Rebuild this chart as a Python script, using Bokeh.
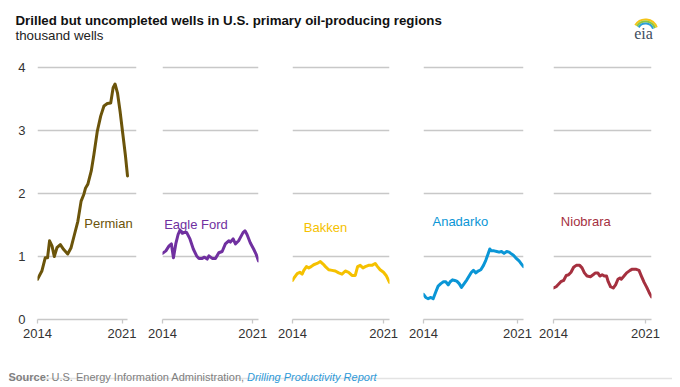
from bokeh.plotting import figure
from bokeh.models import Range1d, FixedTicker, Label
from bokeh.layouts import column, row
from bokeh.embed import file_html
from bokeh.resources import INLINE

# ---------------- data (thousand wells) ----------------
permian_years = [2014.00, 2014.36, 2014.64, 2014.83, 2015.00, 2015.20, 2015.39, 2015.61, 2015.89,
                 2016.17, 2016.50, 2016.78, 2017.06, 2017.34, 2017.61, 2017.84, 2017.98, 2018.17,
                 2018.45, 2018.67, 2018.95, 2019.23, 2019.50, 2019.78, 2020.06, 2020.26, 2020.42,
                 2020.62, 2020.84, 2021.06, 2021.28, 2021.45]
permian_values = [0.64, 0.77, 0.98, 0.98, 1.25, 1.17, 1.00, 1.14, 1.19,
                  1.11, 1.04, 1.14, 1.35, 1.56, 1.88, 1.99, 2.09, 2.15,
                  2.36, 2.62, 2.99, 3.23, 3.39, 3.43, 3.44, 3.68, 3.74,
                  3.60, 3.30, 2.95, 2.60, 2.28]

eagle_ford_years = [2014.00, 2014.26, 2014.51, 2014.69, 2014.85, 2015.03, 2015.21, 2015.36, 2015.54,
                    2015.67, 2015.88, 2016.13, 2016.39, 2016.65, 2016.83, 2017.08, 2017.26, 2017.47,
                    2017.60, 2017.86, 2018.11, 2018.37, 2018.63, 2018.88, 2019.14, 2019.27, 2019.48,
                    2019.66, 2019.91, 2020.04, 2020.25, 2020.40, 2020.56, 2020.81, 2021.07, 2021.28,
                    2021.45]
eagle_ford_values = [1.05, 1.09, 1.17, 1.20, 0.98, 1.20, 1.35, 1.42, 1.37,
                     1.38, 1.38, 1.28, 1.12, 1.01, 0.97, 0.97, 0.99, 0.96,
                     1.01, 0.97, 0.97, 1.06, 1.08, 1.20, 1.25, 1.23, 1.28,
                     1.20, 1.25, 1.30, 1.38, 1.41, 1.35, 1.22, 1.12, 1.03,
                     0.93]

bakken_years = [2014.00, 2014.15, 2014.36, 2014.56, 2014.74, 2014.87, 2015.07, 2015.25, 2015.43,
                2015.63, 2015.89, 2016.14, 2016.35, 2016.53, 2016.78, 2017.04, 2017.29, 2017.55,
                2017.80, 2018.06, 2018.31, 2018.57, 2018.82, 2019.00, 2019.20, 2019.41, 2019.59,
                2019.84, 2020.10, 2020.35, 2020.53, 2020.73, 2020.99, 2021.19, 2021.45]
bakken_values = [0.62, 0.67, 0.73, 0.75, 0.72, 0.78, 0.84, 0.82, 0.84,
                 0.87, 0.89, 0.92, 0.88, 0.84, 0.79, 0.78, 0.77, 0.74,
                 0.72, 0.77, 0.75, 0.70, 0.70, 0.84, 0.86, 0.82, 0.84,
                 0.86, 0.86, 0.89, 0.84, 0.79, 0.75, 0.70, 0.59]

anadarko_years = [2014.00, 2014.17, 2014.35, 2014.55, 2014.72, 2014.92, 2015.09, 2015.29, 2015.49,
                  2015.66, 2015.84, 2015.99, 2016.16, 2016.33, 2016.48, 2016.66, 2016.83, 2017.03,
                  2017.23, 2017.40, 2017.57, 2017.72, 2017.90, 2018.07, 2018.27, 2018.47, 2018.64,
                  2018.81, 2018.94, 2019.06, 2019.26, 2019.46, 2019.63, 2019.81, 2020.00, 2020.20,
                  2020.38, 2020.50, 2020.70, 2020.87, 2021.12, 2021.30, 2021.45]
anadarko_values = [0.40, 0.35, 0.33, 0.35, 0.33, 0.44, 0.53, 0.57, 0.60,
                   0.60, 0.55, 0.60, 0.63, 0.62, 0.61, 0.57, 0.51, 0.57,
                   0.63, 0.69, 0.75, 0.78, 0.74, 0.77, 0.79, 0.86, 0.94,
                   1.04, 1.12, 1.09, 1.09, 1.08, 1.07, 1.08, 1.05, 1.08,
                   1.07, 1.05, 1.02, 0.98, 0.93, 0.88, 0.84]

niobrara_years = [2014.00, 2014.20, 2014.38, 2014.56, 2014.77, 2014.97, 2015.15, 2015.33, 2015.53,
                  2015.73, 2015.99, 2016.17, 2016.35, 2016.55, 2016.81, 2017.01, 2017.19, 2017.37,
                  2017.52, 2017.70, 2017.88, 2018.03, 2018.16, 2018.34, 2018.54, 2018.72, 2018.90,
                  2019.05, 2019.15, 2019.36, 2019.56, 2019.82, 2019.99, 2020.25, 2020.50, 2020.68,
                  2020.89, 2021.09, 2021.27, 2021.45]
niobrara_values = [0.50, 0.52, 0.56, 0.60, 0.62, 0.70, 0.71, 0.75, 0.83,
                   0.86, 0.86, 0.82, 0.74, 0.69, 0.68, 0.71, 0.74, 0.74,
                   0.69, 0.71, 0.69, 0.69, 0.60, 0.52, 0.50, 0.55, 0.64,
                   0.66, 0.64, 0.69, 0.74, 0.78, 0.80, 0.80, 0.78, 0.69,
                   0.59, 0.51, 0.43, 0.36]

region_names = ["Permian", "Eagle Ford", "Bakken", "Anadarko", "Niobrara"]
x_ticks = [2014, 2021]
y_ticks = [0, 1, 2, 3, 4]
x_start, x_end = 2014, 2021.45

title_text = "Drilled but uncompleted wells in U.S. primary oil-producing regions"
subtitle_text = "thousand wells"

# ---------------- styles ----------------
FONT = "Liberation Sans"
GRID = "#c8c8c8"
colors = ["#6b540a", "#7030a0", "#f5c100", "#0a96d6", "#a5303f"]
label_pos = [(2017.87, 1.52), (2014.13, 1.51), (2014.87, 1.46), (2014.67, 1.55), (2014.56, 1.55)]
# (left border, frame width of data area, extra frame room on the right, right border)
borders = [(29, 90, 9, 3), (23, 96, 0, 12), (22, 97, 0, 12), (22, 100, 0, 12), (18, 98, 0, 12)]

series = [(permian_years, permian_values), (eagle_ford_years, eagle_ford_values),
          (bakken_years, bakken_values), (anadarko_years, anadarko_values),
          (niobrara_years, niobrara_values)]

figs = []
for i, (name, (xs, ys)) in enumerate(zip(region_names, series)):
    left, fw, extra, right = borders[i]
    span_end = x_end + extra * (x_end - x_start) / fw
    p = figure(frame_width=fw + extra, frame_height=255, min_border_left=left,
               min_border_right=right, min_border_top=6, min_border_bottom=28,
               x_range=Range1d(x_start, span_end), y_range=Range1d(0, 4.05),
               output_backend="svg", toolbar_location=None, title=None)
    p.outline_line_color = None
    p.xgrid.visible = False
    p.ygrid.grid_line_color = GRID
    p.ygrid.grid_line_width = 1.6
    p.ygrid.bounds = (x_start, x_end)
    p.yaxis.ticker = FixedTicker(ticks=y_ticks)
    p.xaxis.ticker = FixedTicker(ticks=x_ticks)
    p.xaxis.bounds = (x_start, x_end)
    p.xaxis.axis_line_color = GRID
    p.xaxis.axis_line_width = 1.6
    p.xaxis.major_tick_line_color = GRID
    p.xaxis.major_tick_line_width = 1.3
    p.xaxis.major_tick_out = 4
    p.xaxis.major_tick_in = 0
    p.xaxis.minor_tick_line_color = None
    p.xaxis.major_label_text_font = FONT
    p.xaxis.major_label_text_font_size = "13px"
    p.xaxis.major_label_text_color = "#333333"
    p.xaxis.major_label_standoff = 5
    if i == 0:
        p.yaxis.axis_line_color = None
        p.yaxis.major_tick_line_color = None
        p.yaxis.minor_tick_line_color = None
        p.yaxis.major_tick_out = 0
        p.yaxis.major_tick_in = 0
        p.yaxis.major_label_text_font = FONT
        p.yaxis.major_label_text_font_size = "13px"
        p.yaxis.major_label_text_color = "#333333"
        p.yaxis.major_label_standoff = 12
    else:
        p.yaxis.visible = False
    p.line(xs, ys, line_color=colors[i], line_width=3, line_join="round", line_cap="round")
    lx, ly = label_pos[i]
    p.add_layout(Label(x=lx, y=ly, text=name, text_color=colors[i], text_font=FONT,
                       text_font_size="13px", text_baseline="middle", text_align="left"))
    figs.append(p)

# header
h = figure(width=664, height=50, x_range=Range1d(0, 664), y_range=Range1d(0, 50),
           x_axis_type=None, y_axis_type=None, min_border=0, output_backend="svg",
           toolbar_location=None, title=None)
h.outline_line_color = None
h.grid.visible = False
h.add_layout(Label(x=7, y=38.5, text=title_text, text_font=FONT, text_font_style="bold",
                   text_font_size="13.3px", text_color="#111111", text_baseline="alphabetic"))
h.add_layout(Label(x=7, y=23.5, text=subtitle_text, text_font=FONT,
                   text_font_size="13.3px", text_color="#222222", text_baseline="alphabetic"))
# eia logo
h.arc(x=[637, 637, 637], y=[27, 27, 27], radius=[12, 10, 8], start_angle=0.35, end_angle=2.6,
      line_color=["#f4c418", "#8cc63e", "#2e9fd9"], line_width=2)
h.add_layout(Label(x=635, y=25, text="eia", text_font="Liberation Serif", text_font_size="16px",
                   text_color="#3e4e5e", text_align="center", text_baseline="alphabetic"))

# footer
f = figure(width=664, height=36, x_range=Range1d(0, 664), y_range=Range1d(0, 36),
           x_axis_type=None, y_axis_type=None, min_border=0, output_backend="svg",
           toolbar_location=None, title=None)
f.outline_line_color = None
f.grid.visible = False
f.add_layout(Label(x=0, y=7, text="Source:", text_font=FONT, text_font_style="bold",
                   text_font_size="11px", text_color="#808080", text_baseline="alphabetic"))
f.add_layout(Label(x=43, y=7, text="U.S. Energy Information Administration,", text_font=FONT,
                   text_font_size="11px", text_color="#808080", text_baseline="alphabetic"))
f.add_layout(Label(x=238.5, y=7, text="Drilling Productivity Report", text_font=FONT,
                   text_font_style="italic", text_font_size="11px", text_color="#2f9ad8",
                   text_baseline="alphabetic"))
f.segment(x0=[0], y0=[5], x1=[664], y1=[5], line_color="#e3e3e3", line_width=1.5)

layout = column(h, row(*figs), f, margin=(8, 0, 0, 8))
open("out.html", "w").write(file_html(layout, INLINE))
